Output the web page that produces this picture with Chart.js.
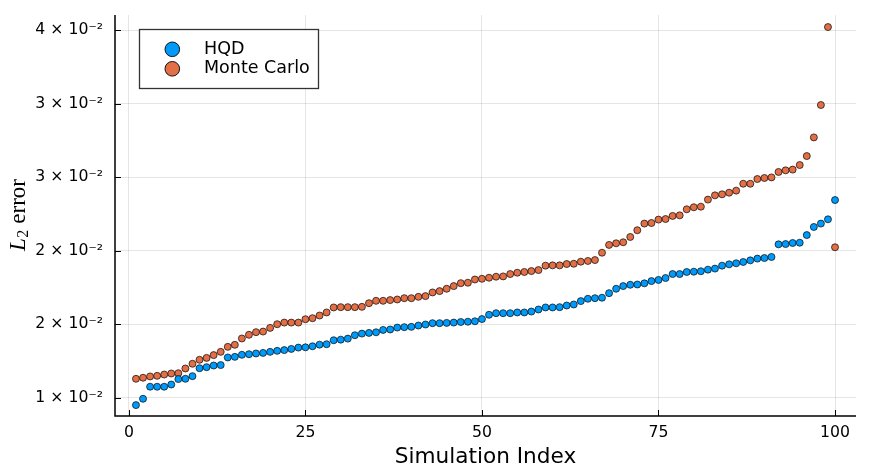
<!DOCTYPE html>
<html>
<head>
<meta charset="utf-8">
<script src="https://cdn.jsdelivr.net/npm/chart.js@4.4.1/dist/chart.umd.min.js"></script>
<style>
  html, body { margin: 0; padding: 0; background: #ffffff; }
  #wrap { width: 872px; height: 470px; position: relative; }
</style>
</head>
<body>
<div id="wrap"><canvas id="c" width="872" height="470"></canvas></div>
<script>
// ---- data ----
const seriesNames = ["HQD", "Monte Carlo"];
const hqdValues = [
  0.00950, 0.00993, 0.01075, 0.01075, 0.01075, 0.01090, 0.01127, 0.01129, 0.01147, 0.01201,
  0.01208, 0.01219, 0.01222, 0.01274, 0.01278, 0.01292, 0.01296, 0.01301, 0.01305, 0.01312,
  0.01319, 0.01324, 0.01332, 0.01341, 0.01343, 0.01350, 0.01361, 0.01364, 0.01391, 0.01395,
  0.01402, 0.01425, 0.01436, 0.01441, 0.01445, 0.01461, 0.01464, 0.01477, 0.01480, 0.01482,
  0.01491, 0.01498, 0.01507, 0.01507, 0.01509, 0.01511, 0.01515, 0.01517, 0.01520, 0.01535,
  0.01564, 0.01575, 0.01575, 0.01575, 0.01580, 0.01580, 0.01586, 0.01600, 0.01614, 0.01614,
  0.01616, 0.01627, 0.01634, 0.01657, 0.01673, 0.01677, 0.01680, 0.01711, 0.01741, 0.01759,
  0.01768, 0.01770, 0.01778, 0.01793, 0.01801, 0.01814, 0.01841, 0.01841, 0.01855, 0.01857,
  0.01860, 0.01871, 0.01878, 0.01898, 0.01907, 0.01914, 0.01923, 0.01934, 0.01946, 0.01950,
  0.01957, 0.02043, 0.02045, 0.02052, 0.02054, 0.02106, 0.02161, 0.02184, 0.02213, 0.02344
];
const monteCarloValues = [
  0.01129, 0.01136, 0.01145, 0.01149, 0.01158, 0.01165, 0.01167, 0.01199, 0.01231, 0.01258,
  0.01271, 0.01290, 0.01312, 0.01346, 0.01360, 0.01403, 0.01428, 0.01446, 0.01450, 0.01475,
  0.01500, 0.01511, 0.01511, 0.01511, 0.01534, 0.01541, 0.01559, 0.01580, 0.01614, 0.01616,
  0.01616, 0.01616, 0.01618, 0.01643, 0.01659, 0.01659, 0.01664, 0.01668, 0.01677, 0.01677,
  0.01686, 0.01691, 0.01716, 0.01725, 0.01741, 0.01759, 0.01779, 0.01782, 0.01804, 0.01809,
  0.01816, 0.01823, 0.01825, 0.01841, 0.01850, 0.01855, 0.01861, 0.01868, 0.01898, 0.01900,
  0.01900, 0.01909, 0.01911, 0.01925, 0.01930, 0.01936, 0.01986, 0.02039, 0.02050, 0.02057,
  0.02093, 0.02139, 0.02184, 0.02188, 0.02211, 0.02215, 0.02236, 0.02240, 0.02281, 0.02295,
  0.02299, 0.02347, 0.02376, 0.02383, 0.02394, 0.02408, 0.02455, 0.02455, 0.02487, 0.02494,
  0.02498, 0.02535, 0.02546, 0.02551, 0.02582, 0.02643, 0.02770, 0.02990, 0.03520, 0.02023
];
const simulationIndex = hqdValues.map((_, i) => i + 1);
const xTickValues = [0, 25, 50, 75, 100];
const yTickValues = [0.010, 0.015, 0.020, 0.025, 0.030, 0.035];
const yTickLabels = ["1 × 10⁻²", "2 × 10⁻²", "2 × 10⁻²", "3 × 10⁻²", "3 × 10⁻²", "4 × 10⁻²"];
const xAxisTitle = "Simulation Index";

// ---- style ----
const SANS = "'DejaVu Sans', sans-serif";
const SERIF = "'Liberation Serif', 'DejaVu Serif', serif";
const colors = ["#009AFA", "#E36F47"];
const gridColor = "rgba(0,0,0,0.10)";

const toPoints = vals => vals.map((v, i) => ({ x: simulationIndex[i], y: v }));

const framePlugin = {
  id: 'plotsFrame',
  afterDraw(chart) {
    const ctx = chart.ctx;
    const a = chart.chartArea;
    const xs = chart.scales.x, ys = chart.scales.y;
    ctx.save();
    // axis lines
    ctx.strokeStyle = '#000';
    ctx.lineWidth = 1.5;
    ctx.beginPath();
    ctx.moveTo(a.left, a.top);
    ctx.lineTo(a.left, a.bottom);
    ctx.lineTo(a.right, a.bottom);
    ctx.stroke();
    // inward tick marks
    ctx.lineWidth = 1;
    ctx.beginPath();
    xTickValues.forEach(v => {
      const px = Math.round(xs.getPixelForValue(v)) + 0.5;
      ctx.moveTo(px, a.bottom);
      ctx.lineTo(px, a.bottom - 6);
    });
    yTickValues.forEach(v => {
      const py = Math.round(ys.getPixelForValue(v)) + 0.5;
      ctx.moveTo(a.left, py);
      ctx.lineTo(a.left + 6, py);
    });
    ctx.stroke();

    // y axis title: L_2 error (rotated)
    ctx.save();
    ctx.fillStyle = '#000';
    ctx.translate(25, 215);
    ctx.rotate(-Math.PI / 2);
    ctx.textBaseline = 'alphabetic';
    ctx.font = "italic 23px " + SERIF;
    const wL = ctx.measureText("L").width;
    ctx.font = "16px " + SERIF;
    const w2 = ctx.measureText("2").width;
    ctx.font = "23px " + SERIF;
    const wE = ctx.measureText("error").width;
    const gap = 6;
    const total = wL + 0.5 + w2 + gap + wE;
    let x0 = -total / 2;
    ctx.font = "italic 23px " + SERIF;
    ctx.fillText("L", x0, 0);
    ctx.font = "16px " + SERIF;
    ctx.fillText("2", x0 + wL + 0.5, 2.5);
    ctx.font = "23px " + SERIF;
    ctx.fillText("error", x0 + wL + 0.5 + w2 + gap, 0);
    ctx.restore();

    // legend box
    const bx = 139.5, by = 29.5, bw = 179, bh = 59;
    ctx.fillStyle = '#fff';
    ctx.fillRect(bx, by, bw, bh);
    ctx.strokeStyle = '#333';
    ctx.lineWidth = 1.3;
    ctx.strokeRect(bx, by, bw, bh);
    const rowsY = [49.3, 68.8];
    chart.data.datasets.forEach((ds, i) => {
      ctx.beginPath();
      ctx.arc(172.3, rowsY[i], 7.3, 0, Math.PI * 2);
      ctx.fillStyle = ds.backgroundColor;
      ctx.fill();
      ctx.strokeStyle = '#111';
      ctx.lineWidth = 1;
      ctx.stroke();
      ctx.fillStyle = '#000';
      ctx.font = "17.5px " + SANS;
      ctx.textBaseline = 'middle';
      ctx.textAlign = 'left';
      ctx.fillText(ds.label, 204, rowsY[i]);
    });
    ctx.restore();
  }
};

new Chart(document.getElementById('c'), {
  type: 'scatter',
  data: {
    datasets: [
      { label: seriesNames[0], data: toPoints(hqdValues), backgroundColor: colors[0],
        borderColor: 'rgba(0,0,0,0.85)', borderWidth: 0.8, pointRadius: 3.5, pointHoverRadius: 3.5 },
      { label: seriesNames[1], data: toPoints(monteCarloValues), backgroundColor: colors[1],
        borderColor: 'rgba(0,0,0,0.85)', borderWidth: 0.8, pointRadius: 3.5, pointHoverRadius: 3.5 }
    ]
  },
  options: {
    responsive: false,
    animation: false,
    devicePixelRatio: 1,
    layout: { padding: { left: 0, right: 16, top: 15, bottom: 0 } },
    plugins: { legend: { display: false }, tooltip: { enabled: false } },
    scales: {
      x: {
        type: 'linear', min: -1.97, max: 102.97,
        afterBuildTicks: s => { s.ticks = xTickValues.map(v => ({ value: v })); },
        afterFit: s => { s.height = 54; s.paddingLeft = 0; s.paddingRight = 0; },
        grid: { color: gridColor, lineWidth: 1, drawTicks: false },
        border: { display: false },
        ticks: { font: { family: SANS, size: 15.7 }, color: '#000', padding: 8, maxRotation: 0,
                 callback: v => String(v) },
        title: { display: true, text: xAxisTitle, font: { family: SANS, size: 21.6 }, color: '#000',
                 padding: { top: 0, bottom: 0 } }
      },
      y: {
        type: 'linear', min: 0.00876, max: 0.03602,
        afterBuildTicks: s => { s.ticks = yTickValues.map(v => ({ value: v })); },
        afterFit: s => { s.width = 115; s.paddingTop = 0; s.paddingBottom = 0; },
        grid: { color: gridColor, lineWidth: 1, drawTicks: false },
        border: { display: false },
        ticks: { font: { family: SANS, size: 15.7 }, color: '#000', padding: 12,
                 callback: (v, i) => yTickLabels[i] }
      }
    }
  },
  plugins: [framePlugin]
});
</script>
</body>
</html>
